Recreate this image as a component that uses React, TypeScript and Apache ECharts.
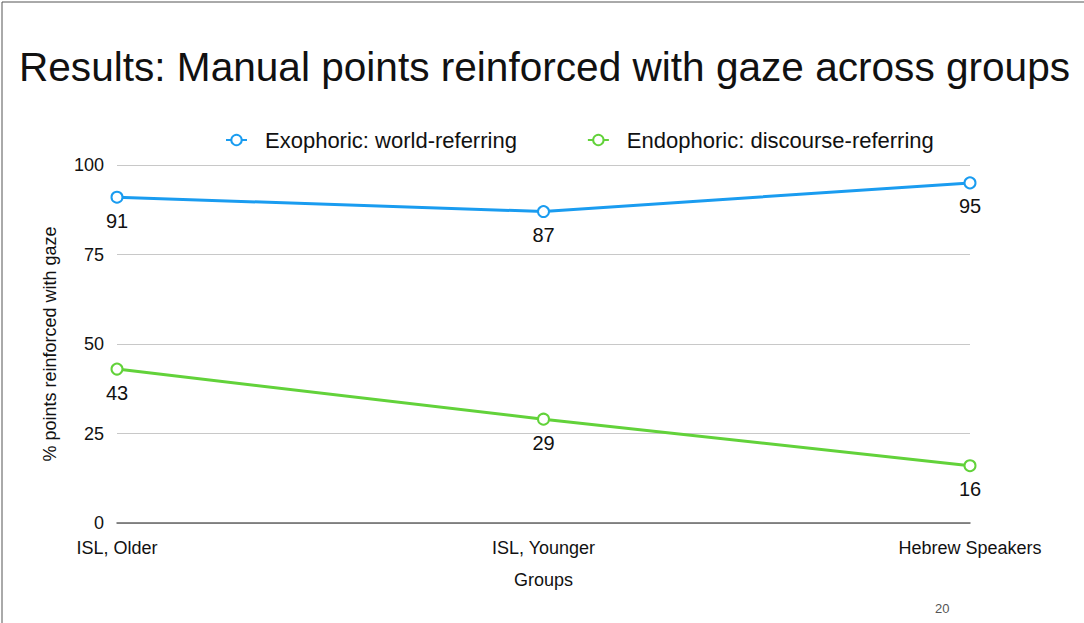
import React, { useEffect, useRef } from "react";
import * as echarts from "echarts";

const categories = ["ISL, Older", "ISL, Younger", "Hebrew Speakers"];
const exophoric = [91, 87, 95];
const endophoric = [43, 29, 16];
const seriesNames = ["Exophoric: world-referring", "Endophoric: discourse-referring"];
const yTicks = [0, 25, 50, 75, 100];

const FONT = "'Liberation Sans', Helvetica, Arial, sans-serif";

export default function App() {
  const ref = useRef<HTMLDivElement>(null);
  useEffect(() => {
    document.body.style.margin = "0";
    const chart = echarts.init(ref.current!, null, { renderer: "svg" });
    const mkSeries = (name: string, data: number[], color: string) => ({
      name,
      type: "line",
      data,
      symbol: "emptyCircle",
      symbolSize: 11,
      lineStyle: { width: 3, color },
      itemStyle: { color, borderWidth: 3.5, borderColor: color },
      label: {
        show: true,
        position: "bottom",
        distance: 7,
        color: "#111",
        fontSize: 20,
        fontFamily: FONT,
      },
    });
    chart.setOption({
      animation: false,
      textStyle: { fontFamily: FONT },
      graphic: [
        {
          type: "rect",
          shape: { x: 2, y: 2, width: 1200, height: 800 },
          style: { fill: "none", stroke: "#555", lineWidth: 1 },
          silent: true,
        },
        {
          type: "text",
          left: 19,
          top: 46,
          style: {
            text: "Results: Manual points reinforced with gaze across groups",
            fontSize: 40.6,
            fontFamily: FONT,
            fill: "#111",
          },
        },
        {
          type: "text",
          left: 935,
          top: 602,
          style: { text: "20", fontSize: 13, fontFamily: FONT, fill: "#555" },
        },
      ],
      legend: {
        top: 124,
        left: 220,
        itemGap: 70,
        itemWidth: 21,
        itemHeight: 13,
        itemStyle: { borderWidth: 3.5 },
        textStyle: { fontSize: 22, color: "#111", fontFamily: FONT, padding: [0, 0, 0, 13] },
        data: seriesNames,
      },
      grid: { left: 117, right: 114, top: 165, bottom: 100 },
      xAxis: {
        type: "category",
        data: categories,
        boundaryGap: false,
        name: "Groups",
        nameLocation: "middle",
        nameGap: 48,
        nameTextStyle: { fontSize: 18, color: "#111", fontFamily: FONT },
        axisLine: { lineStyle: { color: "#666", width: 1.5 } },
        axisTick: { show: false },
        axisLabel: { fontSize: 18, color: "#111", margin: 16, fontFamily: FONT },
      },
      yAxis: {
        type: "value",
        min: yTicks[0],
        max: yTicks[yTicks.length - 1],
        interval: 25,
        name: "% points reinforced with gaze",
        nameLocation: "middle",
        nameGap: 58,
        nameTextStyle: { fontSize: 18, color: "#111", fontFamily: FONT },
        axisLine: { show: false },
        axisTick: { show: false },
        axisLabel: { fontSize: 18, color: "#111", margin: 13, fontFamily: FONT },
        splitLine: { lineStyle: { color: "#c8c8c8", width: 1 } },
      },
      series: [
        mkSeries(seriesNames[0], exophoric, "#1a9cf0"),
        mkSeries(seriesNames[1], endophoric, "#62d23a"),
      ],
    });
    return () => chart.dispose();
  }, []);
  return (
    <div
      ref={ref}
      style={{ position: "fixed", left: 0, top: 0, width: 1084, height: 623, background: "#fff" }}
    />
  );
}
